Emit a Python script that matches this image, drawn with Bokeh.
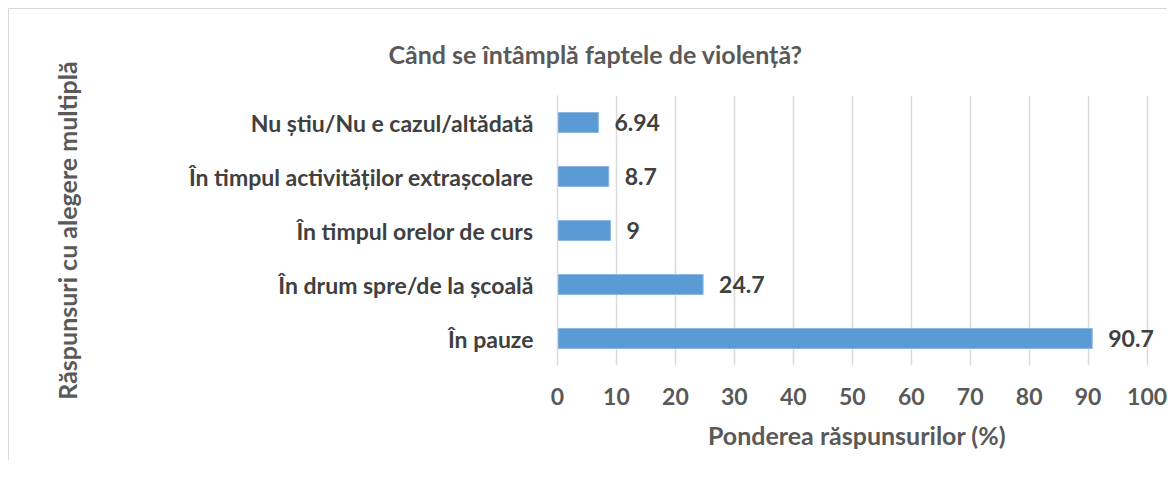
from bokeh.plotting import figure
from bokeh.models import ColumnDataSource, Range1d, FactorRange, LabelSet, FixedTicker, Title
from bokeh.core.properties import value
from bokeh.embed import file_html
from bokeh.resources import INLINE

categories = ["În pauze", "În drum spre/de la școală", "În timpul orelor de curs",
              "În timpul activităților extrașcolare", "Nu știu/Nu e cazul/altădată"]
values = [90.7, 24.7, 9, 8.7, 6.94]
value_labels = ["90.7", "24.7", "9", "8.7", "6.94"]
x_ticks = [0, 10, 20, 30, 40, 50, 60, 70, 80, 90, 100]

chart_title = "Când se întâmplă faptele de violență?"
x_title = "Ponderea răspunsurilor (%)"
y_title = "Răspunsuri cu alegere multiplă"

FONT = "Lato"
BAR = "#5B9BD5"
GRID = "#D9D9D9"
LBL = "23px"
TTL = "25px"

src = ColumnDataSource(dict(cat=categories, val=values, lab=value_labels))

# x range runs a little past 100 so the outside-end label of the longest bar is not clipped
p = figure(frame_width=599, frame_height=270,
           y_range=FactorRange(*categories, range_padding=0),
           x_range=Range1d(0, 101.6),
           output_backend="svg", toolbar_location=None,
           min_border_left=548, min_border_top=81, min_border_right=11, min_border_bottom=95)
p.margin = (8, 0, 0, 8)
p.styles = {"border-left": "1px solid #D9D9D9", "border-top": "1px solid #D9D9D9"}

p.hbar(y="cat", right="val", left=0, height=0.37, source=src,
       fill_color=BAR, line_color="#8DB8E2", line_width=1)

p.add_layout(LabelSet(x="val", y="cat", text="lab", source=src, x_offset=16,
                      text_align="left", text_baseline="middle",
                      text_font=value(FONT), text_font_style="bold", text_font_size=LBL,
                      text_color="#404040"))

p.title = Title(text=chart_title, align="left", offset=-169, standoff=54,
                text_font=FONT, text_font_style="bold", text_font_size=TTL,
                text_color="#595959")

p.outline_line_color = None
p.ygrid.grid_line_color = None
p.xgrid.grid_line_color = GRID
p.xgrid.grid_line_width = 1.5
p.xaxis.ticker = FixedTicker(ticks=x_ticks)

p.xaxis.axis_line_color = None
p.xaxis.major_tick_line_color = None
p.xaxis.minor_tick_line_color = None
p.xaxis.major_label_standoff = 16
p.xaxis.major_label_text_font = FONT
p.xaxis.major_label_text_font_style = "bold"
p.xaxis.major_label_text_font_size = LBL
p.xaxis.major_label_text_color = "#595959"
p.xaxis.axis_label = x_title
p.xaxis.axis_label_standoff = 12
p.xaxis.axis_label_text_font = FONT
p.xaxis.axis_label_text_font_style = "bold"
p.xaxis.axis_label_text_font_size = TTL
p.xaxis.axis_label_text_color = "#595959"

p.yaxis.axis_line_color = GRID
p.yaxis.axis_line_width = 1.5
p.yaxis.major_tick_line_color = None
p.yaxis.minor_tick_line_color = None
p.yaxis.major_label_standoff = 18
p.yaxis.major_label_text_font = FONT
p.yaxis.major_label_text_font_style = "bold"
p.yaxis.major_label_text_font_size = LBL
p.yaxis.major_label_text_color = "#404040"
p.yaxis.axis_label = y_title
p.yaxis.axis_label_standoff = 104
p.yaxis.axis_label_text_font = FONT
p.yaxis.axis_label_text_font_style = "bold"
p.yaxis.axis_label_text_font_size = TTL
p.yaxis.axis_label_text_color = "#595959"

open("out.html", "w").write(file_html(p, INLINE))
